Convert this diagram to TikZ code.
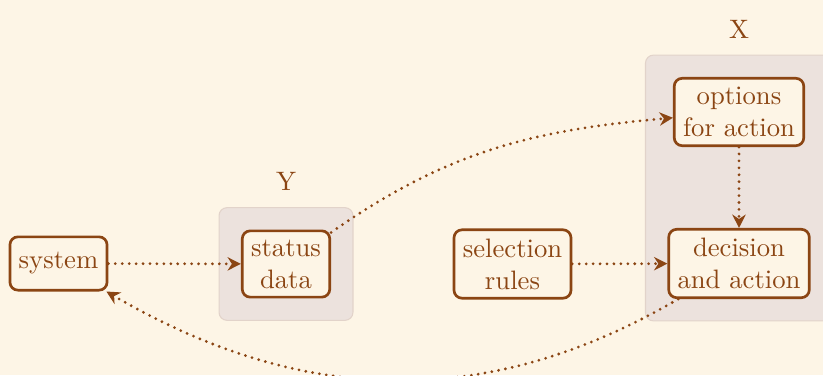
\documentclass[tikz,border=0pt]{standalone}
\usetikzlibrary{arrows.meta,fit,backgrounds}
\definecolor{bg}{HTML}{FDF5E6}
\definecolor{ink}{HTML}{8B4513}
\definecolor{grpfill}{HTML}{ECE2DD}
\definecolor{grpline}{HTML}{E2D3CA}
\tikzset{
  box/.style={draw=ink, line width=1pt, rounded corners=3pt, fill=bg, text=ink,
    align=center, inner sep=3.3pt, minimum height=20pt,
    font=\fontsize{10}{12}\selectfont},
  flow/.style={draw=ink, line width=1.15pt, line cap=round, dash pattern=on 0pt off 2.6pt,
    -{Stealth[length=5pt,width=5pt]}},
  grp/.style={fill=grpfill, draw=grpline, line width=0.4pt, rounded corners=3pt, inner sep=8.2pt},
  grplabel/.style={text=ink, font=\fontsize{10}{12}\selectfont}
}
\begin{document}
\begin{tikzpicture}[x=0.375pt,y=-0.375pt]
\useasboundingbox (0,0) rectangle (823,375);
\node[box] (sys) at (58.5,263.5) {system};
\node[box] (stat) at (286,264) {status\\data};
\node[box] (sel) at (512.5,264) {selection\\rules};
\node[box] (opt) at (739,112) {options\\for action};
\node[box] (dec) at (739,263.5) {decision\\and action};
\begin{scope}[on background layer]
  \fill[bg] (0,0) rectangle (823,375);
  \node[grp, fit=(stat)] (gy) {};
  \node[grp, fit=(opt)(dec)] (gx) {};
\end{scope}
\node[grplabel] (ly) at (286,181) {Y};
\node[grplabel] (lx) at (739,29) {X};
\draw[flow] (sys) -- (stat);
\draw[flow] (stat) to[out=35,in=185] (opt);
\draw[flow] (opt) -- (dec);
\draw[flow] (sel) -- (dec);
\draw[flow] (dec) to[out=210.4,in=-30.4] (sys);
\end{tikzpicture}
\end{document}
